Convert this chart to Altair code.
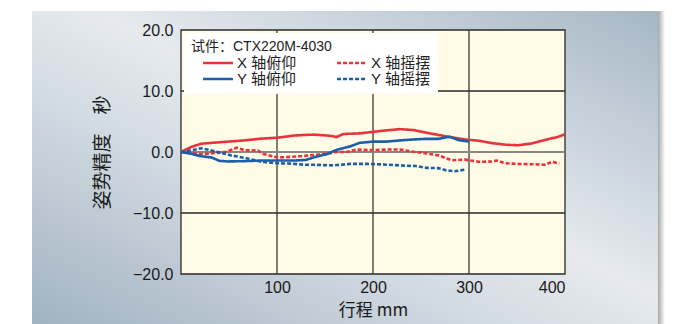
import altair as alt
import pandas as pd

# ---- data ----
xp_x = [0, 5, 11, 21, 32, 49, 66, 84, 101, 118, 130, 138, 152, 158, 162, 169, 186, 200, 214, 228, 242, 256, 268, 282, 296, 310, 324, 338, 351, 365, 379, 393, 400]
xp_y = [0, 0.4, 0.85, 1.35, 1.5, 1.7, 1.9, 2.2, 2.35, 2.7, 2.8, 2.85, 2.7, 2.6, 2.45, 2.95, 3.05, 3.3, 3.55, 3.75, 3.6, 3.15, 2.8, 2.4, 2.05, 1.85, 1.45, 1.2, 1.1, 1.4, 1.95, 2.5, 2.9]

yp_x = [0, 11, 21, 32, 40, 49, 66, 84, 101, 118, 130, 138, 152, 162, 176, 186, 200, 214, 228, 242, 254, 268, 280, 289, 300]
yp_y = [0, -0.3, -0.7, -0.9, -1.45, -1.55, -1.5, -1.4, -1.4, -1.4, -1.3, -0.9, -0.35, 0.35, 0.9, 1.5, 1.7, 1.7, 1.9, 2.05, 2.15, 2.15, 2.5, 1.95, 1.7]

xy_x = [0, 8, 19, 26, 37, 47, 58, 66, 80, 86, 101, 114, 124, 138, 152, 162, 172, 183, 200, 214, 228, 242, 256, 268, 282, 296, 310, 324, 329, 338, 351, 365, 379, 387, 394]
xy_y = [0, -0.15, -0.35, -0.3, -0.15, 0.05, 0.7, 0.3, 0.25, -0.35, -0.9, -0.8, -0.7, -0.5, -0.3, 0, 0, 0.4, 0.3, 0.4, 0.4, 0.05, -0.25, -0.55, -1.35, -1.25, -1.6, -1.55, -1.4, -1.85, -1.95, -2.0, -2.1, -1.6, -1.9]

yy_x = [0, 11, 21, 32, 42, 52, 66, 84, 101, 114, 130, 138, 159, 176, 193, 211, 228, 245, 256, 268, 276, 285, 296]
yy_y = [0, 0.3, 0.6, 0.25, -0.15, -0.55, -0.95, -1.6, -1.85, -1.9, -2.1, -2.1, -2.2, -1.95, -1.95, -2.05, -2.2, -2.3, -2.6, -2.65, -3.0, -3.15, -2.9]

# legend order (filled column by column)
series_names = ["X 轴俯仰", "Y 轴俯仰", "X 轴摇摆", "Y 轴摇摆"]
series_colors = ["#e8333c", "#1b5eab", "#e8333c", "#1b5eab"]
series_dash = [[1, 0], [1, 0], [4, 2], [4, 2]]

x_ticks = [100, 200, 300, 400]
y_ticks = [-20, -10, 0, 10, 20]
x_grid = [100, 200, 300]
y_grid = [-10, 10]
zero_line = [0]

legend_title = "试件：CTX220M-4030"
x_title = "行程 mm"
y_title = "姿势精度　秒"

rows = []
for name, xs, ys in [
    ("X 轴俯仰", xp_x, xp_y),
    ("X 轴摇摆", xy_x, xy_y),
    ("Y 轴俯仰", yp_x, yp_y),
    ("Y 轴摇摆", yy_x, yy_y),
]:
    for i, (a, b) in enumerate(zip(xs, ys)):
        rows.append({"series": name, "x": a, "y": b, "i": i})
df = pd.DataFrame(rows)

W, H = 384, 244
xscale = alt.Scale(domain=[0, 400], nice=False, zero=False)
yscale = alt.Scale(domain=[-20, 20], nice=False, zero=False)

xaxis = alt.Axis(values=x_ticks, title=x_title, grid=False, ticks=False, domain=False,
                 labelFont="Liberation Sans", labelFontSize=16, labelColor="#1a1a1a",
                 labelPadding=5, titleFont="Noto Sans CJK SC", titleFontSize=17,
                 titleFontWeight="normal", titleColor="#1a1a1a", titlePadding=7, zindex=2)
yaxis = alt.Axis(values=y_ticks, format=".1f", title=y_title, grid=False, ticks=False,
                 domain=False, labelFont="Liberation Sans", labelFontSize=16,
                 labelColor="#1a1a1a", labelPadding=8, titleFont="Noto Sans CJK SC",
                 titleFontSize=19, titleFontWeight="normal", titleColor="#1a1a1a",
                 titlePadding=20, zindex=2)

one = alt.Data(values=[{"a": 1}])

shadow = alt.Chart(one).mark_rect(
    color=alt.Gradient(gradient="linear", x1=0, y1=0, x2=1, y2=0,
                       stops=[alt.GradientStop(color="#8e8e8e", offset=0),
                              alt.GradientStop(color="#ffffff", offset=1)])
).encode(x=alt.value(475), x2=alt.value(484), y=alt.value(-19), y2=alt.value(300))

panel = alt.Chart(one).mark_rect(
    color=alt.Gradient(gradient="linear", x1=0, y1=1, x2=1, y2=0,
                       stops=[alt.GradientStop(color="#9fb1c0", offset=0),
                              alt.GradientStop(color="#d3dbe2", offset=0.38),
                              alt.GradientStop(color="#e6eaee", offset=0.55),
                              alt.GradientStop(color="#c2ced8", offset=0.8),
                              alt.GradientStop(color="#a5b6c3", offset=1)])
).encode(x=alt.value(-149), x2=alt.value(477), y=alt.value(-19), y2=alt.value(300))

plotbg = alt.Chart(one).mark_rect(
    color="#fffbe7", stroke="#2a2a2a", strokeWidth=1.3
).encode(x=alt.value(0), x2=alt.value(W), y=alt.value(0), y2=alt.value(H))

vgrid = alt.Chart(pd.DataFrame({"g": x_grid})).mark_rule(
    color="#3a3a3a", strokeWidth=1.3
).encode(x=alt.X("g:Q", scale=xscale, axis=xaxis))

hgrid = alt.Chart(pd.DataFrame({"g": y_grid})).mark_rule(
    color="#2a2a2a", strokeWidth=1.3
).encode(y=alt.Y("g:Q", scale=yscale, axis=yaxis))

zero = alt.Chart(pd.DataFrame({"g": zero_line})).mark_rule(
    color="#8a8680", strokeWidth=2
).encode(y=alt.Y("g:Q", scale=yscale, axis=yaxis))

legend = alt.Legend(
    title=legend_title, orient="none", legendX=3, legendY=3, columns=2,
    fillColor="white", padding=7, symbolType="M-2.3,0H2.3", symbolSize=169,
    symbolStrokeWidth=2.6, symbolOffset=19, labelFontSize=15,
    labelFont="Liberation Sans, Noto Sans CJK SC", labelColor="#222222",
    titleFont="Liberation Sans, Noto Sans CJK SC", titleFontSize=14,
    titleFontWeight="normal", titleColor="#222222", titlePadding=1,
    rowPadding=0, columnPadding=28, labelOffset=11, zindex=2,
)

lines = alt.Chart(df).mark_line(strokeWidth=2.6, clip=True).encode(
    x=alt.X("x:Q", scale=xscale, axis=xaxis),
    y=alt.Y("y:Q", scale=yscale, axis=yaxis),
    color=alt.Color("series:N", scale=alt.Scale(domain=series_names, range=series_colors), legend=legend),
    strokeDash=alt.StrokeDash("series:N", scale=alt.Scale(domain=series_names, range=series_dash), legend=legend),
    order="i:Q",
)

chart = alt.layer(shadow, panel, plotbg, vgrid, hgrid, zero, lines).properties(
    width=W, height=H,
    autosize=alt.AutoSizeParams(type="none"),
    padding={"left": 173, "top": 22, "right": 117, "bottom": 50},
    background="white",
).configure_view(stroke=None)

chart.save("out.html", embed_options={"renderer": "svg", "actions": False})
